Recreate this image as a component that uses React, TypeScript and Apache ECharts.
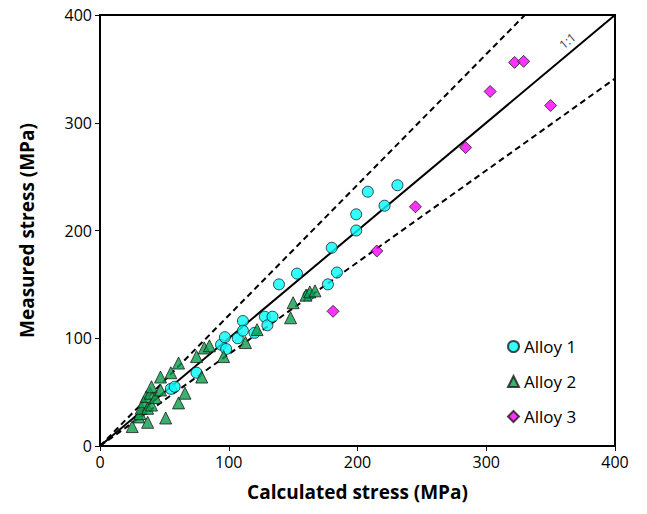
import React, { useEffect, useRef } from "react";
import * as echarts from "echarts";

// Alloy 1 (circles)
const alloy1X = [55, 58, 75, 94, 98, 97, 107, 111, 111, 120, 128, 130, 134, 139, 153, 162, 177, 180, 184, 199, 199, 208, 221, 231];
const alloy1Y = [53, 55, 68, 94, 90, 101, 100, 116, 107, 105, 120, 112, 120, 150, 160, 140, 150, 184, 161, 200, 215, 236, 223, 242];

// Alloy 2 (triangles)
const alloy2X = [25, 37, 51, 61, 66, 79, 30, 31, 32, 34, 36, 37, 39, 40, 40, 43, 47, 47, 55, 61, 75, 81, 85, 96, 113, 122, 148, 150, 160, 163, 167];
const alloy2Y = [18, 22, 26, 40, 49, 64, 27, 30, 35, 41, 46, 35, 49, 38, 55, 45, 52, 64, 68, 77, 83, 91, 93, 83, 96, 108, 119, 133, 140, 143, 144];

// Alloy 3 (diamonds)
const alloy3X = [322, 329, 303, 350, 284, 245, 215, 181];
const alloy3Y = [356, 357, 329, 316, 277, 222, 181, 125];

// Reference lines (endpoints in data units)
const lineOneToOne = [[0, 0], [400, 400]];
const lineUpper = [[0, 0], [330, 400]];
const lineLower = [[0, 0], [400, 341]];
const labelOneToOne = [[363, 376]];

const axisTicks = { min: 0, max: 400, interval: 100 };

const zip = (xs: number[], ys: number[]) => xs.map((x, i) => [x, ys[i]]);

const FONT = "Open Sans";

export default function App() {
  const ref = useRef<HTMLDivElement>(null);
  useEffect(() => {
    if (!ref.current) return;
    const chart = echarts.init(ref.current, null, { renderer: "svg" });
    const refLine = (data: number[][], dashed: boolean) => ({
      type: "line",
      data,
      symbol: "none",
      silent: true,
      z: 1,
      lineStyle: { color: "#000", width: 2, type: dashed ? [6, 4] : "solid" },
    });
    chart.setOption({
      animation: false,
      textStyle: { fontFamily: FONT },
      grid: {
        left: 100,
        right: 32,
        top: 15,
        bottom: 68,
        show: true,
        borderColor: "#000",
        borderWidth: 2,
      },
      legend: {
        orient: "vertical",
        left: 502,
        top: 333,
        itemWidth: 11,
        itemHeight: 11,
        itemGap: 18,
        itemTextGap: 9,
        textStyle: { fontFamily: FONT, fontSize: 17, color: "#000" },
        data: ["Alloy 1", "Alloy 2", "Alloy 3"],
      },
      xAxis: {
        type: "value",
        ...axisTicks,
        name: "Calculated stress (MPa)",
        nameLocation: "middle",
        nameGap: 36,
        nameTextStyle: { fontFamily: FONT, fontSize: 19, fontWeight: "bold", color: "#000" },
        axisLine: { show: true, lineStyle: { color: "#000", width: 2 } },
        axisTick: { show: true, length: 5, lineStyle: { color: "#000", width: 1 } },
        axisLabel: { fontFamily: FONT, fontSize: 16, color: "#000", margin: 8 },
        splitLine: { show: false },
      },
      yAxis: {
        type: "value",
        ...axisTicks,
        name: "Measured stress (MPa)",
        nameLocation: "middle",
        nameGap: 64,
        nameTextStyle: { fontFamily: FONT, fontSize: 19, fontWeight: "bold", color: "#000" },
        axisLine: { show: true, lineStyle: { color: "#000", width: 2 } },
        axisTick: { show: true, length: 5, lineStyle: { color: "#000", width: 1 } },
        axisLabel: { fontFamily: FONT, fontSize: 16, color: "#000", margin: 8 },
        splitLine: { show: false },
      },
      series: [
        refLine(lineOneToOne, false),
        refLine(lineUpper, true),
        refLine(lineLower, true),
        {
          type: "scatter",
          data: labelOneToOne,
          symbolSize: 0,
          silent: true,
          z: 2,
          label: {
            show: true,
            position: "inside",
            formatter: "1:1",
            rotate: 40,
            fontFamily: FONT,
            fontSize: 12,
            color: "#000",
          },
        },
        {
          name: "Alloy 1",
          type: "scatter",
          data: zip(alloy1X, alloy1Y),
          symbol: "circle",
          symbolSize: 11,
          z: 3,
          itemStyle: { color: "#00FFFF", borderColor: "#1a1a1a", borderWidth: 1 },
        },
        {
          name: "Alloy 2",
          type: "scatter",
          data: zip(alloy2X, alloy2Y),
          symbol: "triangle",
          symbolSize: 12,
          z: 3,
          itemStyle: { color: "#0A9E4C", borderColor: "#1a1a1a", borderWidth: 1 },
        },
        {
          name: "Alloy 3",
          type: "scatter",
          data: zip(alloy3X, alloy3Y),
          symbol: "diamond",
          symbolSize: 12,
          z: 3,
          itemStyle: { color: "#FF00FF", borderColor: "#1a1a1a", borderWidth: 1 },
        },
      ],
    });
    return () => chart.dispose();
  }, []);
  return <div ref={ref} style={{ width: 647, height: 514, position: "absolute", left: 0, top: 0 }} />;
}
